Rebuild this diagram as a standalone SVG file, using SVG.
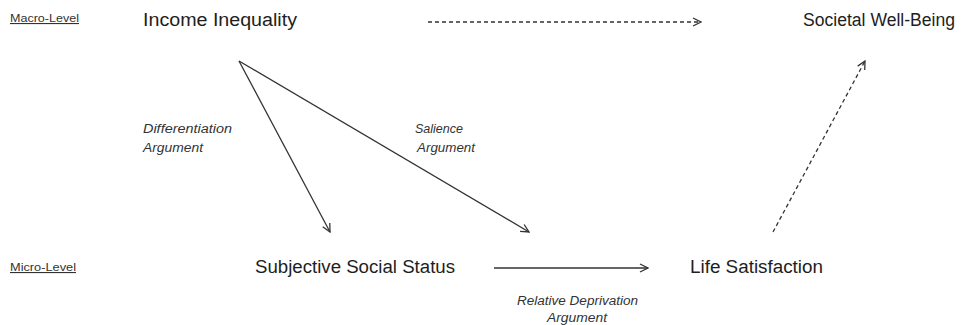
<svg xmlns="http://www.w3.org/2000/svg" width="967" height="325" viewBox="0 0 967 325">
<style>
.n{font-family:"Liberation Sans",Arial,sans-serif;font-size:18px;fill:#1e1e1e}
.lv{font-family:"Liberation Sans",Arial,sans-serif;font-size:11px;fill:#333;text-decoration:underline}
.it{font-family:"Liberation Sans",Arial,sans-serif;font-size:12px;font-style:italic;fill:#333}
.c{stroke:#333;stroke-width:1.3;fill:none}
.d{stroke-dasharray:4 3}
</style>
<defs>
<marker id="ah" viewBox="0 0 10 10" refX="9" refY="5" markerWidth="10" markerHeight="10" markerUnits="userSpaceOnUse" orient="auto">
<path d="M1,1 L9,5 L1,9" fill="none" stroke="#333" stroke-width="1.3"/>
</marker>
</defs>
<rect width="967" height="325" fill="#fff"/>
<g id="levels">
<text class="lv" x="10" y="22" textLength="69" lengthAdjust="spacingAndGlyphs">Macro-Level</text>
<text class="lv" x="10" y="271" textLength="66" lengthAdjust="spacingAndGlyphs">Micro-Level</text>
</g>
<g id="income-inequality"><text class="n" x="143" y="26" textLength="154" lengthAdjust="spacingAndGlyphs">Income Inequality</text></g>
<g id="societal-well-being"><text class="n" x="803" y="26" textLength="152" lengthAdjust="spacingAndGlyphs">Societal Well-Being</text></g>
<g id="subjective-social-status"><text class="n" x="255" y="273" textLength="200" lengthAdjust="spacingAndGlyphs">Subjective Social Status</text></g>
<g id="life-satisfaction"><text class="n" x="690" y="273" textLength="133" lengthAdjust="spacingAndGlyphs">Life Satisfaction</text></g>
<g id="connectors">
<line class="c d" x1="428" y1="22" x2="701" y2="22" marker-end="url(#ah)"/>
<line class="c d" x1="773" y1="232" x2="865" y2="61" marker-end="url(#ah)"/>
<line class="c" x1="239" y1="61" x2="330" y2="232" marker-end="url(#ah)"/>
<line class="c" x1="239" y1="61" x2="529" y2="232" marker-end="url(#ah)"/>
<line class="c" x1="494" y1="268" x2="648" y2="268" marker-end="url(#ah)"/>
</g>
<g id="labels">
<text class="it" x="143" y="133" textLength="89" lengthAdjust="spacingAndGlyphs">Differentiation</text>
<text class="it" x="143" y="152" textLength="60" lengthAdjust="spacingAndGlyphs">Argument</text>
<text class="it" x="415" y="133" textLength="48" lengthAdjust="spacingAndGlyphs">Salience</text>
<text class="it" x="417" y="152" textLength="58" lengthAdjust="spacingAndGlyphs">Argument</text>
<text class="it" x="517" y="305" textLength="121" lengthAdjust="spacingAndGlyphs">Relative Deprivation</text>
<text class="it" x="547" y="322" textLength="60" lengthAdjust="spacingAndGlyphs">Argument</text>
</g>
</svg>
